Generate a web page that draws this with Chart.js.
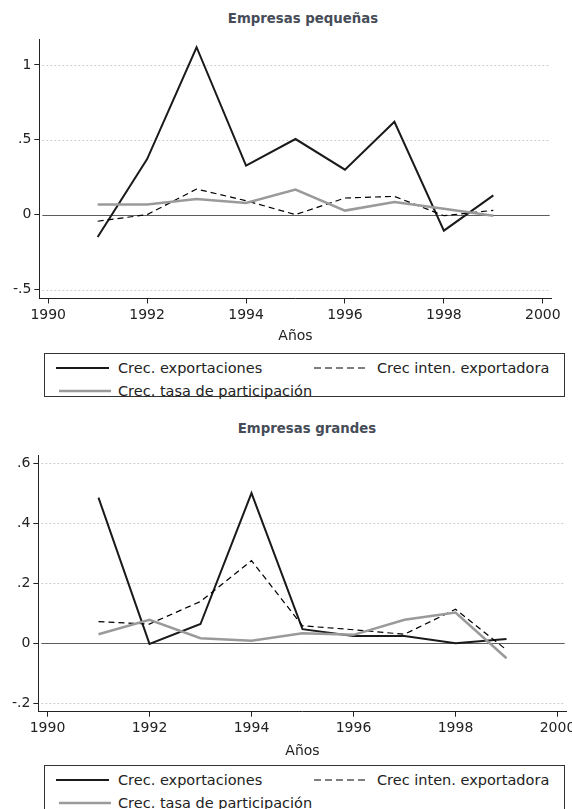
<!DOCTYPE html>
<html>
<head>
<meta charset="utf-8">
<script src="https://cdn.jsdelivr.net/npm/chart.js@4.4.1/dist/chart.umd.min.js"></script>
<style>
  body { margin: 0; width: 572px; height: 809px; overflow: hidden; background: #fff; position: relative; font-family: "DejaVu Sans", sans-serif; }
  canvas { position: absolute; left: 0; }
  .title { position: absolute; font-weight: bold; font-size: 13.3px; line-height: 16px; color: #464c58; transform: translateX(-50%); white-space: nowrap; }
  .legend { position: absolute; left: 44px; width: 521px; border: 1px solid #333; box-sizing: border-box; }
  .legend span { position: absolute; font-size: 14.5px; line-height: 16px; color: #222; white-space: nowrap; }
  .legend svg { position: absolute; }
</style>
</head>
<body>
<div class="title" style="left:303px;top:11px">Empresas pequeñas</div>
<canvas id="chartSmall" width="572" height="345" style="top:0"></canvas>
<div class="legend" id="legendSmall" style="top:353px;height:44px"></div>

<div class="title" style="left:307px;top:421px">Empresas grandes</div>
<canvas id="chartLarge" width="600" height="360" style="top:400px"></canvas>
<div class="legend" id="legendLarge" style="top:765px;height:46px"></div>

<script>
(function () {
  "use strict";

  // Data
  const years = [1991, 1992, 1993, 1994, 1995, 1996, 1997, 1998, 1999];
  const xTicks = [1990, 1992, 1994, 1996, 1998, 2000];
  const seriesLabels = ['Crec. exportaciones', 'Crec inten. exportadora', 'Crec. tasa de participación'];

  // Empresas pequeñas
  const expSmall  = [-0.149, 0.371, 1.118, 0.327, 0.505, 0.300, 0.620, -0.107, 0.129];
  const intSmall  = [-0.044, 0.000, 0.171, 0.093, 0.000, 0.111, 0.122, -0.007, 0.029];
  const partSmall = [0.067, 0.067, 0.104, 0.078, 0.167, 0.027, 0.084, 0.040, -0.007];
  const yTicksSmall = [-0.5, 0, 0.5, 1];

  // Empresas grandes
  const expLarge  = [0.485, -0.002, 0.064, 0.500, 0.047, 0.024, 0.024, 0.000, 0.014];
  const intLarge  = [0.072, 0.064, 0.139, 0.275, 0.058, 0.045, 0.030, 0.113, -0.022];
  const partLarge = [0.030, 0.078, 0.017, 0.008, 0.033, 0.028, 0.078, 0.102, -0.050];
  const yTicksLarge = [-0.2, 0, 0.2, 0.4, 0.6];

  // Styles
  const black = '#1a1a1a';
  const gray  = '#9a9a9a';
  const axisColor = '#222';
  const tickFont = { family: 'DejaVu Sans', size: 14 };

  const seriesStyles = [
    { borderColor: black, borderWidth: 2, borderDash: [], order: 3 },
    { borderColor: '#000', borderWidth: 1.2, borderDash: [6, 4], order: 2 },
    { borderColor: gray, borderWidth: 2.5, borderDash: [], order: 1 }
  ];

  function fmt(v) {
    return String(v).replace(/^(-?)0\./, '$1.');
  }

  // horizontal reference lines: dotted grid, solid zero line
  const gridPlugin = {
    id: 'stataGrid',
    beforeDatasetsDraw(chart) {
      const { ctx, chartArea } = chart;
      const y = chart.scales.y;
      ctx.save();
      ctx.lineWidth = 1;
      y.ticks.forEach(function (t) {
        const py = Math.round(y.getPixelForValue(t.value)) + 0.5;
        ctx.beginPath();
        if (t.value === 0) {
          ctx.setLineDash([]);
          ctx.strokeStyle = '#5c5c5c';
        } else {
          ctx.setLineDash([2, 2]);
          ctx.strokeStyle = '#cdcdcd';
        }
        ctx.moveTo(chartArea.left + 3, py);
        ctx.lineTo(chartArea.right - 2, py);
        ctx.stroke();
      });
      ctx.restore();
    }
  };

  function makeChart(id, seriesList, yMin, yMax, yTicks, geo) {
    const el = document.getElementById(id);
    return new Chart(el.getContext('2d'), {
      type: 'line',
      data: {
        datasets: seriesList.map(function (vals, i) {
          return Object.assign({
            label: seriesLabels[i],
            data: years.map(function (yr, j) { return { x: yr, y: vals[j] }; }),
            fill: false,
            pointRadius: 0,
            tension: 0
          }, seriesStyles[i]);
        })
      },
      options: {
        responsive: false,
        animation: false,
        devicePixelRatio: 1,
        layout: { padding: { top: geo.top, right: geo.right, left: 0, bottom: 0 } },
        plugins: {
          legend: { display: false },
          tooltip: { enabled: false },
          title: { display: false }
        },
        scales: {
          x: {
            type: 'linear',
            min: 1989.82,
            max: 2000.18,
            afterBuildTicks: function (s) { s.ticks = xTicks.map(function (v) { return { value: v }; }); },
            afterFit: function (s) { s.height = geo.xHeight; },
            ticks: { font: tickFont, color: axisColor, padding: 3, maxRotation: 0, autoSkip: false,
                     callback: function (v) { return String(v); } },
            grid: { drawOnChartArea: false, tickLength: 5, tickColor: axisColor, tickWidth: 1 },
            border: { color: axisColor, width: 1 },
            title: { display: true, text: 'Años', font: { family: 'DejaVu Sans', size: 14 }, color: axisColor,
                     padding: { top: 0, bottom: 0 } }
          },
          y: {
            type: 'linear',
            min: yMin,
            max: yMax,
            afterBuildTicks: function (s) { s.ticks = yTicks.map(function (v) { return { value: v }; }); },
            afterFit: function (s) { s.width = geo.yWidth; },
            ticks: { font: tickFont, color: axisColor, padding: 3, callback: fmt },
            grid: { drawOnChartArea: false, tickLength: 5, tickColor: axisColor, tickWidth: 1 },
            border: { color: axisColor, width: 1 }
          }
        }
      },
      plugins: [gridPlugin]
    });
  }

  function svgLine(x, y, w, style) {
    const dash = style.borderDash.length ? ' stroke-dasharray="7 4"' : '';
    return '<svg style="left:' + x + 'px;top:' + (y - 3) + 'px" width="' + w + '" height="6">' +
      '<line x1="0" y1="3" x2="' + w + '" y2="3" stroke="' + style.borderColor + '" stroke-width="' +
      style.borderWidth + '"' + dash + '/></svg>';
  }

  function buildLegend(id) {
    const box = document.getElementById(id);
    const items = [
      { lx: 11, lw: 53, tx: 73, cy: 14 },
      { lx: 269, lw: 54, tx: 332, cy: 14 },
      { lx: 14, lw: 52, tx: 73, cy: 36.7 }
    ];
    let html = '';
    items.forEach(function (it, i) {
      html += svgLine(it.lx, it.cy, it.lw, seriesStyles[i]);
      html += '<span style="left:' + it.tx + 'px;top:' + (it.cy - 8) + 'px">' + seriesLabels[i] + '</span>';
    });
    box.innerHTML = html;
  }

  makeChart('chartSmall', [expSmall, intSmall, partSmall], -0.56, 1.173, yTicksSmall,
    { top: 39, right: 20.3, yWidth: 39.3, xHeight: 46.5 });
  makeChart('chartLarge', [expLarge, intLarge, partLarge], -0.228, 0.627, yTicksLarge,
    { top: 55, right: 33.3, yWidth: 38.3, xHeight: 48.3 });

  buildLegend('legendSmall');
  buildLegend('legendLarge');
})();
</script>
</body>
</html>
